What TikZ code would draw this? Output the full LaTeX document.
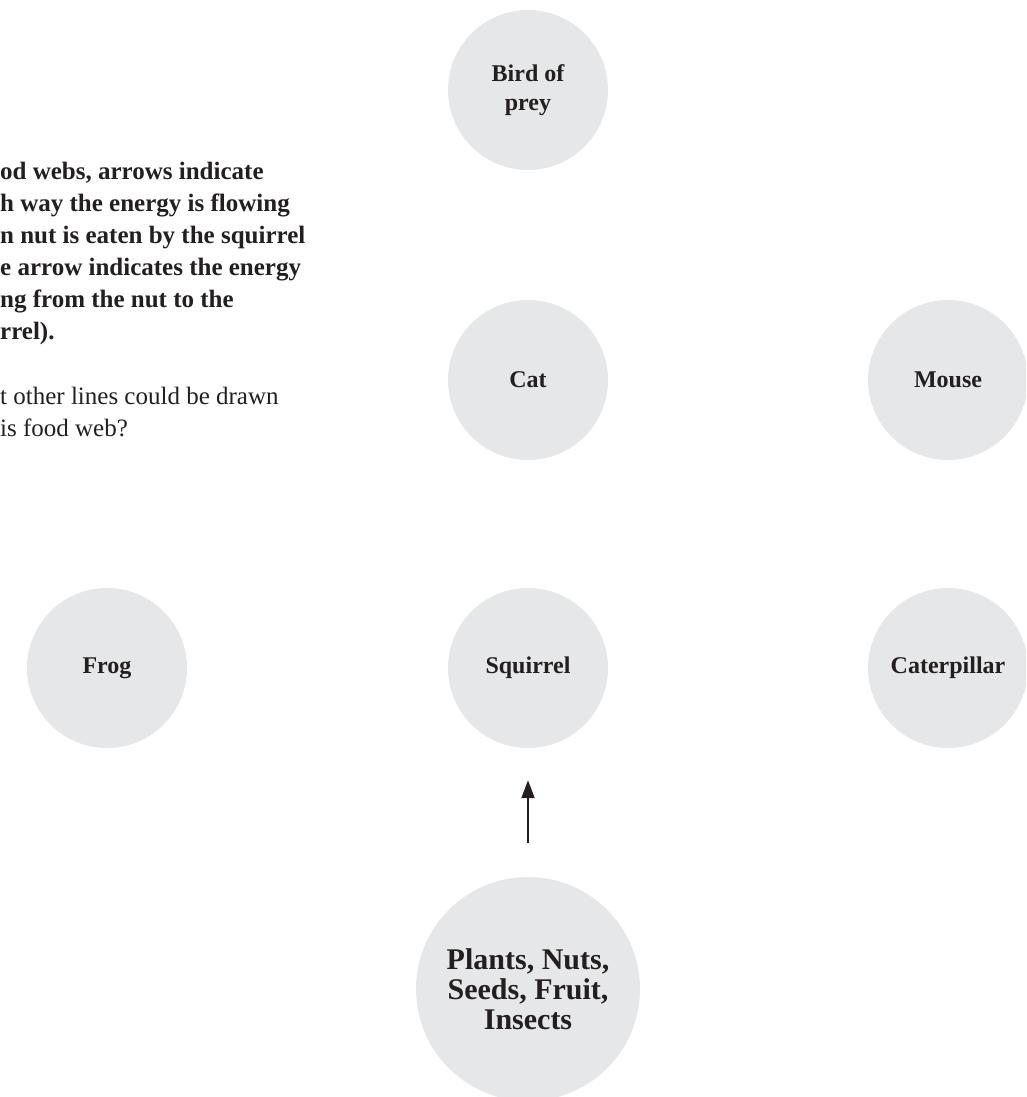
\documentclass[tikz,border=0pt]{standalone}
\usepackage{fontspec}
\setmainfont{Liberation Serif}
\usetikzlibrary{arrows.meta}
\definecolor{circfill}{HTML}{E6E7E8}
\definecolor{ink}{HTML}{231F20}
\tikzset{
  web/.style={circle, fill=circfill, minimum size=160pt, inner sep=0pt, align=center,
    text=ink, font=\fontsize{24}{29}\selectfont\bfseries},
  bigweb/.style={web, minimum size=224pt, font=\fontsize{30}{30}\selectfont\bfseries},
  boldline/.style={anchor=base west, inner sep=0pt, text=ink, font=\fontsize{25}{32}\selectfont\bfseries},
  plainline/.style={anchor=base west, inner sep=0pt, text=ink, font=\fontsize{25}{32}\selectfont},
  flow/.style={draw=ink, line width=2pt, -{Triangle[width=13pt,length=18pt]}}
}
\begin{document}
\begin{tikzpicture}[x=1pt,y=-1pt]
\useasboundingbox (0,0) rectangle (1026,1097);
\clip (0,0) rectangle (1026,1097);
\node[web] (bird) at (528,90) {Bird of\\prey};
\node[web] (cat) at (528,380) {Cat};
\node[web] (mouse) at (948,380) {Mouse};
\node[web] (frog) at (107,668) {Frog};
\node[web] (squirrel) at (528,668) {Squirrel};
\node[web] (caterpillar) at (948,668) {Caterpillar};
\node[bigweb] (plants) at (528,989) {Plants, Nuts,\\Seeds, Fruit,\\Insects};
\draw[flow, shorten >=32pt, shorten <=34pt] (plants) -- (squirrel);
\node[boldline] (t1) at (0,179) {od webs, arrows indicate};
\node[boldline] (t2) at (0,211) {h way the energy is flowing};
\node[boldline] (t3) at (0,243) {n nut is eaten by the squirrel};
\node[boldline] (t4) at (0,275) {e arrow indicates the energy};
\node[boldline] (t5) at (0,307) {ng from the nut to the};
\node[boldline] (t6) at (0,339) {rrel).};
\node[plainline] (t7) at (0,404) {t other lines could be drawn};
\node[plainline] (t8) at (0,436) {is food web?};
\end{tikzpicture}
\end{document}
